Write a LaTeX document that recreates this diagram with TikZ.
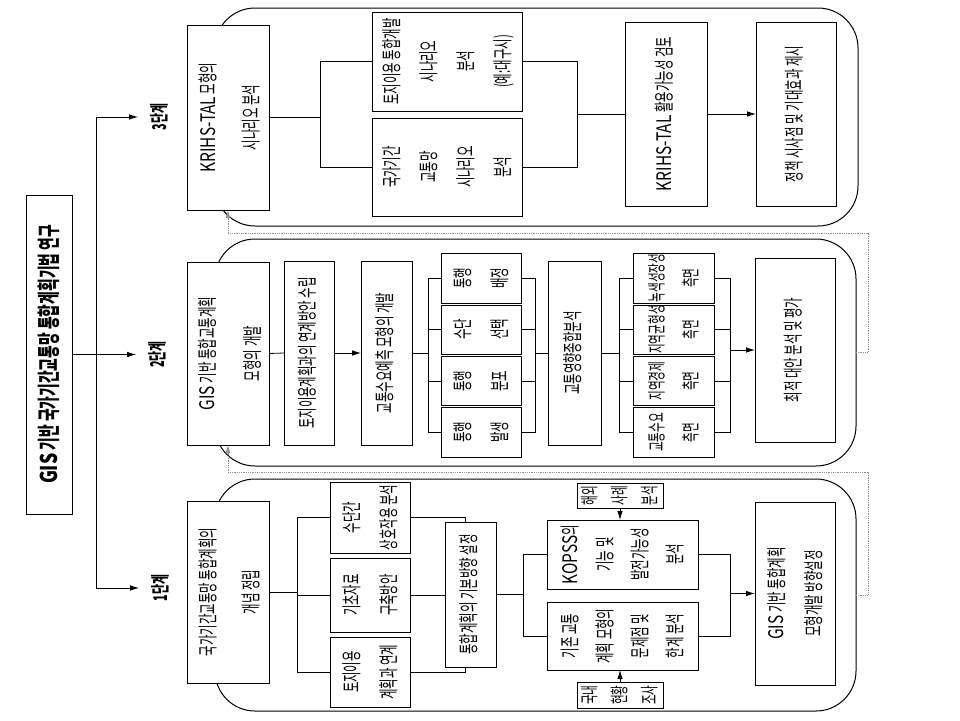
\documentclass[tikz,border=0pt]{standalone}
\usepackage{graphicx}
\usepackage{fontspec}
\setmainfont{Noto Sans CJK KR}[FakeStretch=0.57]
\newfontfamily\lat{Noto Sans CJK KR}[FakeStretch=0.77]
\newfontfamily\ttl{Noto Sans CJK KR}[FakeStretch=0.6]
\usetikzlibrary{arrows.meta}
\newcommand\fs{20}
\newcommand{\vt}[2]{\rotatebox{90}{\fontsize{\fs}{#1}\selectfont\begin{tabular}{@{}c@{}}#2\end{tabular}}}
\newcommand{\bx}[7]{\node[box, minimum width=#4pt, minimum height=#5pt] (#1) at (#2,#3) {}; \node[txt] (#1t) at (#1.center) {\vt{#6}{#7}};}
\tikzset{
 box/.style={draw, line width=1pt, fill=white, inner sep=0pt, outer sep=0pt},
 txt/.style={inner sep=0pt, outer sep=0pt},
 ln/.style={line width=0.8pt},
 arr/.style={ln, -{Latex[length=9pt,width=5.5pt]}},
 panel/.style={draw, line width=1pt, rounded corners=40pt, inner sep=0pt, outer sep=0pt},
 fb/.style={draw=gray!85, line width=0.8pt, densely dotted, -{Latex[length=8pt,width=5pt]}},
}
\begin{document}
\begin{tikzpicture}[x=1pt,y=-1pt]
\fill[white] (0,0) rectangle (960,720);
\useasboundingbox (0,0) rectangle (960,720);

% panels
\node[panel, minimum width=643pt, minimum height=218pt] (PN3) at (536.5,117) {};
\node[panel, minimum width=641pt, minimum height=227pt] (PN2) at (535.5,352.5) {};
\node[panel, minimum width=641pt, minimum height=232pt] (PN1) at (535.5,595) {};

% title and tree
\node[box, minimum width=46pt, minimum height=319pt] (T) at (49,354.5) {};
\node[txt] (Tt) at (T.center) {\rotatebox{90}{\fontsize{23}{26}\selectfont\ttl\bfseries{\lat\bfseries GIS} 기반 국가기간교통망 통합계획기법 연구}};
\node[txt] (L3) at (159,117) {\rotatebox{90}{\fontsize{19}{20}\selectfont\bfseries 3단계}};
\node[txt] (L2) at (157,354.5) {\rotatebox{90}{\fontsize{19}{20}\selectfont\bfseries 2단계}};
\node[txt] (L1) at (160,588) {\rotatebox{90}{\fontsize{19}{20}\selectfont\bfseries 1단계}};
\coordinate (J) at (96,0);
\draw[ln] (J |- L3) -- (J |- L1);
\draw[arr] (J |- L3) -- ([xshift=-12pt]L3.west);
\draw[arr] (T.east) -- ([xshift=-12pt]L2.west);
\draw[arr] (J |- L1) -- ([xshift=-12pt]L1.west);

% feedback dotted lines
\coordinate (F2) at (868,233);
\coordinate (F1) at (868,472);

% ---------- stage 3 ----------
\bx{P3A}{228}{117.5}{82}{185}{43pt}{{\lat KRIHS-TAL} 모형의\\시나리오 분석}
\bx{P3B}{447}{61.5}{150}{99}{37pt}{토지이용 통합개발\\시나리오\\분석\\(예:대구시)}
\bx{P3C}{447}{167}{150}{98}{37pt}{국가기간\\교통망\\시나리오\\분석}
\bx{P3D}{666}{114}{82}{184}{20pt}{{\lat KRIHS-TAL} 활용가능성 검토}
\bx{P3E}{796}{114}{80}{184}{20pt}{정책 시사점 및 기대효과 제시}
\coordinate (b3a) at (320,0);
\coordinate (b3b) at (577,0);
\draw[ln] (P3A.east) -- (b3a |- P3A.east);
\draw[ln] (P3B.west) -| (b3a |- P3C.west) -- (P3C.west);
\draw[ln] (P3B.east) -| (b3b |- P3C.east) -- (P3C.east);
\draw[ln] (b3b |- P3D.west) -- (P3D.west);
\draw[arr] (P3D.east) -- (P3E.west);

% ---------- stage 2 ----------
\bx{P2A}{228}{353.5}{82}{183}{45pt}{{\lat GIS} 기반 통합교통계획\\모형의 개발}
\bx{P2B}{309}{353}{50}{184}{20pt}{토지이용계획과의 연계방안 수립}
\bx{P2C}{386.5}{353}{51}{184}{20pt}{교통수요예측 모형의 개발}
\bx{S1}{481}{278}{80}{50}{37pt}{통행\\배정}
\bx{S2}{481}{329.5}{80}{49}{37pt}{수단\\선택}
\bx{S3}{481}{381}{80}{49}{37pt}{통행\\분포}
\bx{S4}{481}{432.5}{80}{50}{37pt}{통행\\발생}
\bx{P2D}{574.5}{353}{53}{184}{20pt}{교통영향종합분석}
\renewcommand\fs{18.5}
\bx{R1}{673.5}{278}{81}{50}{34pt}{녹색성장성\\측면}
\bx{R2}{673.5}{329.5}{81}{49}{34pt}{지역균형성\\측면}
\bx{R3}{673.5}{381}{81}{49}{34pt}{지역경제\\측면}
\bx{R4}{673.5}{432.5}{81}{50}{34pt}{교통수요\\측면}
\renewcommand\fs{20}
\bx{P2E}{795}{350}{80}{184}{20pt}{최적 대안 분석 및 평가}
\coordinate (b2a) at (428,0);
\coordinate (b2b) at (535,0);
\coordinate (b2c) at (619,0);
\coordinate (b2d) at (730,0);
\draw[ln] (P2A.east) -- (P2B.west);
\draw[arr] (P2B.east) -- (P2C.west);
\draw[ln] (P2C.east) -- (b2a |- P2C.east);
\draw[ln] (S1.west) -| (b2a |- S4.west) -- (S4.west);
\draw[ln] (S2.west) -- (b2a |- S2.west);
\draw[ln] (S3.west) -- (b2a |- S3.west);
\draw[ln] (S1.east) -| (b2b |- S4.east) -- (S4.east);
\draw[ln] (S2.east) -- (b2b |- S2.east);
\draw[ln] (S3.east) -- (b2b |- S3.east);
\draw[ln] (b2b |- P2D.west) -- (P2D.west);
\draw[ln] (P2D.east) -- (b2c |- P2D.east);
\draw[ln] (R1.west) -| (b2c |- R4.west) -- (R4.west);
\draw[ln] (R2.west) -- (b2c |- R2.west);
\draw[ln] (R3.west) -- (b2c |- R3.west);
\draw[ln] (R1.east) -| (b2d |- R4.east) -- (R4.east);
\draw[ln] (R2.east) -- (b2d |- R2.east);
\draw[ln] (R3.east) -- (b2d |- R3.east);
\draw[arr] (b2d |- P2E.west) -- (P2E.west);

% ---------- stage 1 ----------
\bx{P1A}{228}{592}{82}{182}{43pt}{국가기간교통망 통합계획의\\개념 정립}
\bx{Q1}{370}{517.5}{80}{71}{37pt}{수단간\\상호작용 분석}
\bx{Q2}{370}{595}{80}{74}{37pt}{기초자료\\구축방안}
\bx{Q3}{370}{672}{80}{70}{37pt}{토지이용\\계획과 연계}
\coordinate (b1a) at (297,0);
\coordinate (b1b) at (465,0);
\coordinate (b1c) at (523,0);
\coordinate (b1d) at (730,0);
\draw[ln] (P1A.east) -- (b1a |- P1A.east);
\draw[ln] (Q1.west) -| (b1a |- Q3.west) -- (Q3.west);
\draw[ln] (Q2.west) -- (b1a |- Q2.west);
\draw[ln] (Q1.east) -| (b1b |- Q3.east) -- (Q3.east);
\draw[ln] (Q2.east) -- (b1b |- Q2.east);
\bx{P1B}{470.5}{594.5}{51}{145}{20pt}{통합계획의 기본방향 설정}
\bx{K1}{622.5}{554.5}{151}{69}{35pt}{{\lat KOPSS}의\\기능 및\\발전가능성\\분석}
\bx{K2}{622.5}{636}{151}{68}{35pt}{기존 교통\\계획 모형의\\문제점 및\\한계 분석}
\renewcommand\fs{18.5}
\bx{H1}{620}{495.5}{86}{25}{30pt}{해외\\사례\\분석}
\bx{H2}{620}{695}{86}{26}{30pt}{국내\\현황\\조사}
\renewcommand\fs{20}
\bx{P1E}{795}{593.5}{80}{183}{37pt}{{\lat GIS} 기반 통합계획\\모형개발 방향설정}
\draw[ln] (P1B.east) -- (b1c |- P1B.east);
\draw[ln] (K1.west) -| (b1c |- K2.west) -- (K2.west);
\draw[arr] (H1.south) -- (H1.south |- K1.north);
\draw[arr] (H2.north) -- (H2.north |- K2.south);
\draw[ln] (K1.east) -| (b1d |- K2.east) -- (K2.east);
\draw[arr] (b1d |- P1E.west) -- (P1E.west);

% feedback
\draw[fb] (PN2.east) -- (F2 |- PN2.east) -- (F2) -- (P3A.south |- F2) -- (P3A.south);
\draw[fb] (PN1.east) -- (F1 |- PN1.east) -- (F1) -- (P2A.south |- F1) -- (P2A.south);
\end{tikzpicture}
\end{document}
